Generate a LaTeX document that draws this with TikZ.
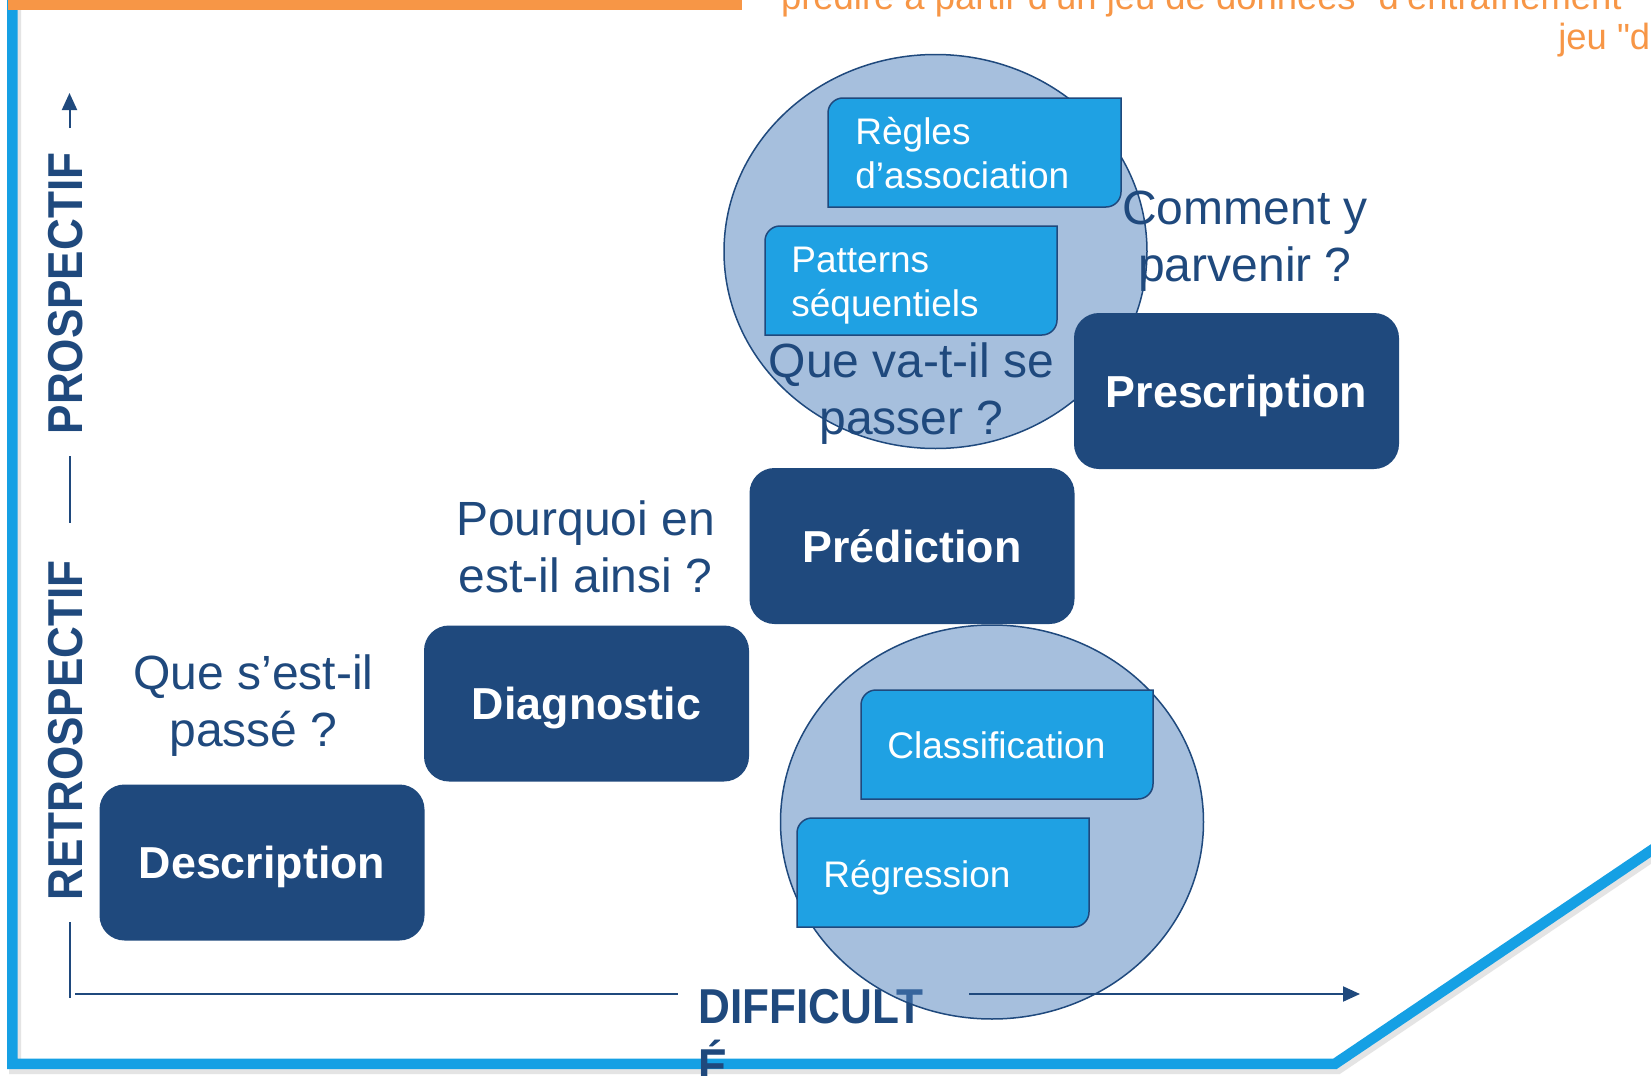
\documentclass[tikz,border=0pt]{standalone}
\usepackage{fontspec}
\setmainfont{Liberation Sans}
\newfontfamily\condfont{Liberation Sans}[FakeStretch=0.9]
\newfontfamily\plainfont{Liberation Sans}[Ligatures=TeXOff]
\usetikzlibrary{arrows.meta,shapes.geometric}
\definecolor{navy}{HTML}{1F497D}
\definecolor{skyb}{HTML}{1FA1E3}
\definecolor{frameb}{HTML}{15A0E4}
\definecolor{circb}{HTML}{4F81BD}
\definecolor{orng}{HTML}{F79646}
\newcommand\twolines[3]{\begin{tabular}[t]{@{}#1@{}}#2\\#3\end{tabular}}
\newcommand\halfround[4]{% x1 y1 x2 y2 (top-left, bottom-right)
  \path[smallshape] (#1,#4) -- ([yshift=-7.5pt]#1,#2) arc[start angle=180,end angle=90,radius=7.5pt]
    -- (#3,#2) -- ([yshift=7.5pt]#3,#4) arc[start angle=0,end angle=-90,radius=7.5pt] -- cycle;}
\tikzset{
  bigbox/.style={rectangle, rounded corners=12.5pt, fill=navy, minimum width=162.5pt,
    minimum height=78pt, text=white, font=\fontsize{22.4}{26}\selectfont\bfseries,
    text height=16pt, text depth=0pt, inner sep=0pt},
  question/.style={text=navy, font=\fontsize{24}{28.5}\selectfont, inner sep=0pt, anchor=base},
  axislabel/.style={text=navy, font=\condfont\bfseries\fontsize{24.5}{29}\selectfont, inner sep=0pt},
  axisline/.style={draw=navy, line width=1pt},
  axistip/.style={-{Triangle[length=8.5pt,width=7.5pt]}},
  smallshape/.style={fill=skyb, draw=navy, line width=0.75pt},
  smalltext/.style={text=white, font=\fontsize{18.5}{22}\selectfont, inner sep=0pt, anchor=base west},
  blob/.style={ellipse, fill=circb, fill opacity=0.5, draw=navy, line width=0.75pt, inner sep=0pt},
  frameline/.style={draw=frameb, line width=5.3pt, line join=miter},
  frameshadow/.style={draw=black!35, opacity=0.3, line width=6pt},
  orangetext/.style={text=orng, font=\plainfont\fontsize{18.2}{20}\selectfont, inner sep=0pt}
}
\begin{document}
\begin{tikzpicture}[x=0.5pt,y=-0.5pt]
\useasboundingbox (0,0) rectangle (1651,1076);
\clip (0,0) rectangle (1651,1076);
\fill[white] (0,0) rectangle (1651,1076);

% frame
\draw[frameshadow] (15,-10) -- (15,1068) -- (1338,1068) -- (1723,808);
\draw[frameline] (12.3,-10) -- (12.3,1063.8) -- (1335,1063.8) -- (1720,804);
\fill[orng] (8,0) rectangle (742,9.5);

% orange text (cut by the edges)
\node[orangetext, anchor=base east] (o1) at (1635,10) {prédire à partir d’un jeu de données "d’entraînement"};
\node[orangetext, anchor=base west] (o2) at (1558,49.5) {jeu "d};

% x-axis label (under the lower circle)
\node[axislabel, anchor=base west] (diff) at (698,1023) {\twolines{l}{DIFFICULT}{É}};

% circles
\node[blob, minimum width=211.5pt, minimum height=197pt] (c1) at (935.5,251.5) {};
\node[blob, minimum width=211.5pt, minimum height=197pt] (c2) at (992,822) {};

% axes
\coordinate (ya0) at (69.5,128); \coordinate (ya1) at (69.5,93);
\coordinate (yb0) at (69.5,456); \coordinate (yb1) at (69.5,523);
\coordinate (yc0) at (69.5,922); \coordinate (yc1) at (69.5,998);
\coordinate (xa0) at (75,994);   \coordinate (xa1) at (678,994);
\coordinate (xb0) at (969,994);  \coordinate (xb1) at (1360,994);
\draw[axisline, axistip] (ya0) -- (ya1);
\draw[axisline] (yb0) -- (yb1);
\draw[axisline] (yc0) -- (yc1);
\draw[axisline] (xa0) -- (xa1);
\draw[axisline, axistip] (xb0) -- (xb1);
\node[axislabel, rotate=90, anchor=base] (pro) at (83,293.5) {PROSPECTIF};
\node[axislabel, rotate=90, anchor=base] (retro) at (83,730.5) {RETROSPECTIF};

% small boxes
\halfround{828}{98}{1121}{207}
\node[smalltext] (rules) at (855,144) {\twolines{l}{Règles}{d’association}};
\halfround{765}{226}{1057}{335}
\node[smalltext] (patt) at (791,272) {\twolines{l}{Patterns}{séquentiels}};
\halfround{861}{690}{1153}{799}
\node[smalltext] (classif) at (887,758) {Classification};
\halfround{797}{818}{1089}{927}
\node[smalltext] (regr) at (823,887) {Régression};

% big boxes
\node[bigbox] (desc) at (262,862.5) {Description};
\node[bigbox] (diag) at (586.5,703.5) {Diagnostic};
\node[bigbox] (pred) at (912,546) {Prédiction};
\node[bigbox] (presc) at (1236.5,391) {Prescription};

% questions
\node[question] (q1) at (253.5,689) {\twolines{c}{Que s’est-il}{passé ?}};
\node[question] (q2) at (585.5,535) {\twolines{c}{Pourquoi en}{est-il ainsi ?}};
\node[question] (q3) at (911.5,377) {\twolines{c}{Que va-t-il se}{passer ?}};
\node[question] (q4) at (1245,224) {\twolines{c}{Comment y}{parvenir ?}};
\end{tikzpicture}
\end{document}
